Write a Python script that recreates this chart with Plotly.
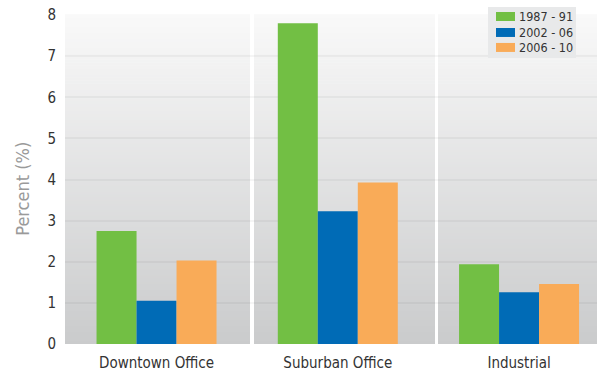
import plotly.graph_objects as go

categories = ["Downtown Office", "Suburban Office", "Industrial"]
series_names = ["1987 - 91", "2002 - 06", "2006 - 10"]
v_1987_91 = [2.75, 7.8, 1.94]
v_2002_06 = [1.05, 3.23, 1.26]
v_2006_10 = [2.03, 3.93, 1.46]
y_ticks = [0, 1, 2, 3, 4, 5, 6, 7, 8]

colors = ["#72bf44", "#006bb6", "#f9ab58"]
series_values = [v_1987_91, v_2002_06, v_2006_10]

FONT = "Liberation Sans Narrow, DejaVu Sans Condensed, Roboto Condensed, Roboto, sans-serif"

W, H = 600, 372
ML, MR, MT, MB = 65, 3, 15, 27.5
PW = W - ML - MR
PH = H - MT - MB

fig = go.Figure()
for name, vals, col in zip(series_names, series_values, colors):
    fig.add_trace(go.Bar(x=categories, y=vals, name=name, marker=dict(color=col, line=dict(width=0)),
                         showlegend=False))

shapes = []
# vertical gradient background (strips)
n = 110
top = (249, 249, 249)
bot = (202, 203, 204)
for i in range(n):
    t = (i + 0.5) / n
    c = tuple(round(bot[k] + (top[k] - bot[k]) * t) for k in range(3))
    shapes.append(dict(type="rect", xref="paper", yref="paper", x0=0, x1=1,
                       y0=i / n, y1=(i + 1) / n + 0.002, line=dict(width=0),
                       fillcolor="rgb(%d,%d,%d)" % c, layer="below"))

def px_to_x(px):
    return (px - ML) / PW

def py_to_y(py):
    return (H - MB - py) / PH

# white separators between panels
for a, b in [(250, 254), (435, 438)]:
    shapes.append(dict(type="rect", xref="paper", yref="paper", x0=px_to_x(a), x1=px_to_x(b),
                       y0=-0.01, y1=1.01, line=dict(width=0), fillcolor="white", layer="between"))

# custom legend
shapes.append(dict(type="rect", xref="paper", yref="paper", x0=px_to_x(488), x1=px_to_x(576),
                   y0=py_to_y(58), y1=py_to_y(7), line=dict(width=0), fillcolor="#e8e9ea", layer="above"))
annotations = []
rows = [(12, 21), (28, 37), (43, 52)]
for (r0, r1), name, col in zip(rows, series_names, colors):
    shapes.append(dict(type="rect", xref="paper", yref="paper", x0=px_to_x(496), x1=px_to_x(515),
                       y0=py_to_y(r1), y1=py_to_y(r0), line=dict(width=0), fillcolor=col, layer="above"))
    annotations.append(dict(x=px_to_x(517), y=py_to_y((r0 + r1) / 2 + 0.5), xref="paper", yref="paper",
                            text=name, showarrow=False, xanchor="left", yanchor="middle",
                            font=dict(family=FONT, size=12.5, color="#333333")))

# y-axis title
annotations.append(dict(x=px_to_x(23), y=py_to_y(189), xref="paper", yref="paper",
                        text="Percent (%)", showarrow=False, textangle=-90,
                        xanchor="center", yanchor="middle",
                        font=dict(family=FONT, size=18, color="#9a9a9a")))

fig.update_layout(
    width=W, height=H,
    margin=dict(l=ML, r=MR, t=MT, b=MB, autoexpand=False),
    paper_bgcolor="white", plot_bgcolor="white",
    barmode="group", bargap=0.338, bargroupgap=0,
    shapes=shapes, annotations=annotations,
    font=dict(family=FONT, size=14, color="#333333"),
    xaxis=dict(type="category", range=[-0.505, 2.43], showgrid=False, zeroline=False,
               showline=False, ticks="", ticklabelstandoff=8, automargin=False,
               tickfont=dict(family=FONT, size=15, color="#333333")),
    yaxis=dict(range=[0, 8], tickvals=y_ticks, showgrid=True, gridcolor="rgba(0,0,0,0.04)",
               gridwidth=2, zeroline=False, showline=False, ticks="",
               ticklabelstandoff=8, automargin=False,
               tickfont=dict(family=FONT, size=15, color="#333333")),
)

fig.write_html("out.html")
